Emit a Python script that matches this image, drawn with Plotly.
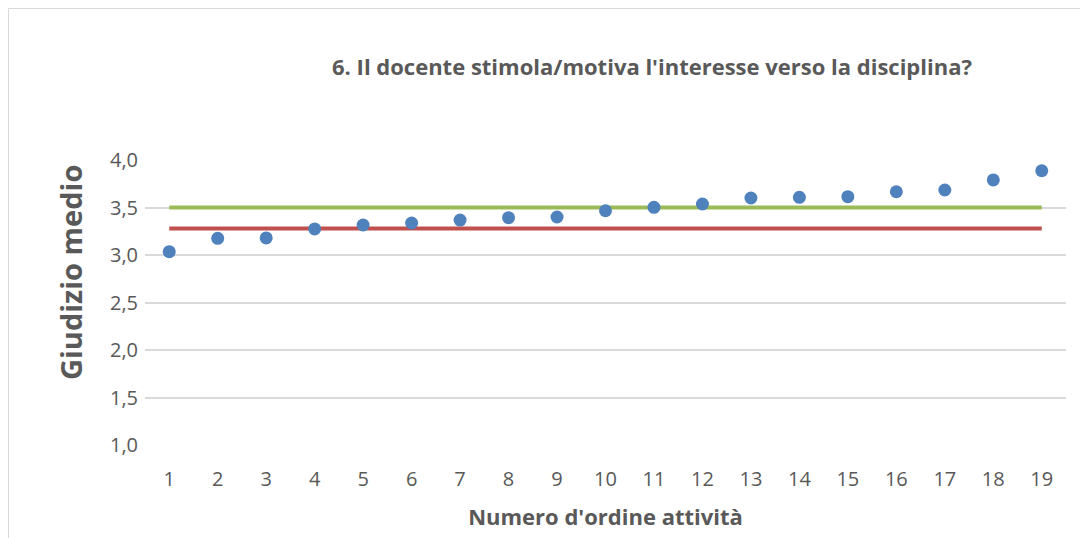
import plotly.graph_objects as go

activities = list(range(1, 20))
giudizio = [3.035, 3.176, 3.18, 3.274, 3.316, 3.337, 3.368, 3.393, 3.40, 3.466,
            3.502, 3.537, 3.60, 3.607, 3.614, 3.666, 3.684, 3.79, 3.887]
media_rossa = [3.28] * 19
media_verde = [3.5] * 19
y_ticks = [1.0, 1.5, 2.0, 2.5, 3.0, 3.5, 4.0]
y_labels = ["1,0", "1,5", "2,0", "2,5", "3,0", "3,5", "4,0"]

# page has 8px body margin; figure placed at (8,8)
OFF = 8
W, H = 1080, 530
L, T = 145 - OFF, 160 - OFF
R = W - (1066 - OFF)
B = H - (445 - OFF)
pw, ph = W - L - R, H - T - B

fig = go.Figure()
fig.add_trace(go.Scatter(x=activities, y=media_verde, mode="lines",
                         line=dict(color="#9BBB59", width=4), showlegend=False))
fig.add_trace(go.Scatter(x=activities, y=media_rossa, mode="lines",
                         line=dict(color="#C0504D", width=4), showlegend=False))
fig.add_trace(go.Scatter(x=activities, y=giudizio, mode="markers",
                         marker=dict(color="#4F81BD", size=13), showlegend=False))

font_col = "#595959"
fam = "Open Sans, sans-serif"
fig.update_layout(
    width=W, height=H,
    margin=dict(l=L, r=R, t=T, b=B),
    plot_bgcolor="white", paper_bgcolor="white",
    font=dict(family=fam, color=font_col, size=20),
    title=dict(text="<b>6. Il docente stimola/motiva l'interesse verso la disciplina?</b>",
               x=(652 - OFF) / W, xanchor="center", xref="container",
               y=1 - (67 - OFF) / H, yanchor="middle", yref="container",
               font=dict(size=22, color=font_col, family=fam)),
    xaxis=dict(range=[0.5, 19.5], tickmode="array", tickvals=activities,
               ticktext=[str(a) for a in activities], showgrid=False, zeroline=False,
               showline=False, ticks="", ticklen=0, ticklabelstandoff=20,
               tickfont=dict(size=20, color=font_col, family=fam),
               title=dict(text="<b>Numero d'ordine attività</b>", standoff=18,
                          font=dict(size=22, color=font_col, family=fam))),
    yaxis=dict(range=[1.0, 4.0], tickmode="array", tickvals=y_ticks, ticktext=y_labels,
               showgrid=True, gridcolor="#D9D9D9", gridwidth=1.5, zeroline=False,
               showline=False, ticks="", ticklabelstandoff=6,
               tickfont=dict(size=20, color=font_col, family=fam)),
)

# y-axis title as annotation (positioned like the reference)
fig.add_annotation(text="<b>Giudizio medio</b>", textangle=-90,
                   xref="paper", yref="paper",
                   x=(70 - 145) / pw, y=(445 - 273) / ph,
                   xanchor="center", yanchor="middle", showarrow=False,
                   font=dict(size=29, color=font_col, family=fam))

# outer chart border (left and top edges visible, rest beyond page)
fig.add_shape(type="rect", xref="paper", yref="paper",
              x0=(0.5 - L) / pw, x1=(W + 10 - L) / pw,
              y0=-(B + 10) / ph, y1=1 + (T - 0.5) / ph,
              line=dict(color="#D9D9D9", width=1), fillcolor="rgba(0,0,0,0)", layer="below")

fig.write_html("out.html")
